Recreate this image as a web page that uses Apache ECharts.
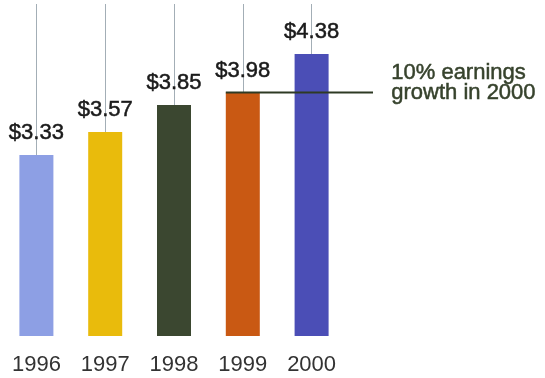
<!DOCTYPE html>
<html>
<head>
<meta charset="utf-8">
<script src="https://cdn.jsdelivr.net/npm/echarts@6/dist/echarts.min.js"></script>
<style>
  html, body { margin: 0; padding: 0; background: #ffffff; }
  #chart { width: 545px; height: 378px; }
</style>
</head>
<body>
<div id="chart"></div>
<script>
// Earnings per share by year
const years = ['1996', '1997', '1998', '1999', '2000'];
const eps = [3.33, 3.57, 3.85, 3.98, 4.38];
const barColors = ['#8d9fe4', '#e9bb0c', '#3b4730', '#c95913', '#4b4eb6'];
const valueLabels = ['$3.33', '$3.57', '$3.85', '$3.98', '$4.38'];
const growthBaseYear = '1999';
const growthBaseValue = 3.98;
const noteLines = ['10% earnings', 'growth in 2000'];

const chart = echarts.init(document.getElementById('chart'));
const FONT = '"Liberation Sans", Arial, Helvetica, sans-serif';

chart.setOption({
  animation: false,
  backgroundColor: '#ffffff',
  grid: { left: 2, right: 199, top: 4, bottom: 42 },
  xAxis: {
    type: 'category',
    data: years,
    axisLine: { show: false },
    axisTick: { show: false },
    axisLabel: { color: '#333333', fontFamily: FONT, fontSize: 22, margin: 18 }
  },
  yAxis: {
    type: 'value',
    min: 1.45,
    max: 4.9,
    show: false,
    splitLine: { show: false }
  },
  series: [{
    type: 'bar',
    z: 3,
    barWidth: 34,
    data: eps.map((v, i) => ({ value: v, itemStyle: { color: barColors[i] } })),
    label: {
      show: true,
      position: 'top',
      distance: 11,
      color: '#1a1a1a',
      fontFamily: FONT,
      fontSize: 22,
      textBorderColor: '#1a1a1a',
      textBorderWidth: 0.5,
      formatter: p => valueLabels[p.dataIndex]
    },
    markLine: {
      z: 1,
      silent: true,
      symbol: 'none',
      label: { show: false },
      lineStyle: { color: '#a3aeb6', width: 1, type: 'solid' },
      data: years.map(y => ({ xAxis: y }))
    }
  }]
});

// Reference line at the 1999 level, with its note
const idx = years.indexOf(growthBaseYear);
const p = chart.convertToPixel({ gridIndex: 0 }, [idx, growthBaseValue]);
chart.setOption({
  graphic: [{
    type: 'line',
    z: 10,
    shape: { x1: p[0] - 17, y1: p[1], x2: 373, y2: p[1] },
    style: { stroke: '#2e3a24', lineWidth: 2 }
  }, {
    type: 'text',
    left: 391,
    top: p[1] - 31,
    z: 10,
    style: {
      text: noteLines.join('\n'),
      fill: '#36422c',
      stroke: '#36422c',
      lineWidth: 0.5,
      font: '22px ' + FONT,
      lineHeight: 20
    }
  }]
});
</script>
</body>
</html>
